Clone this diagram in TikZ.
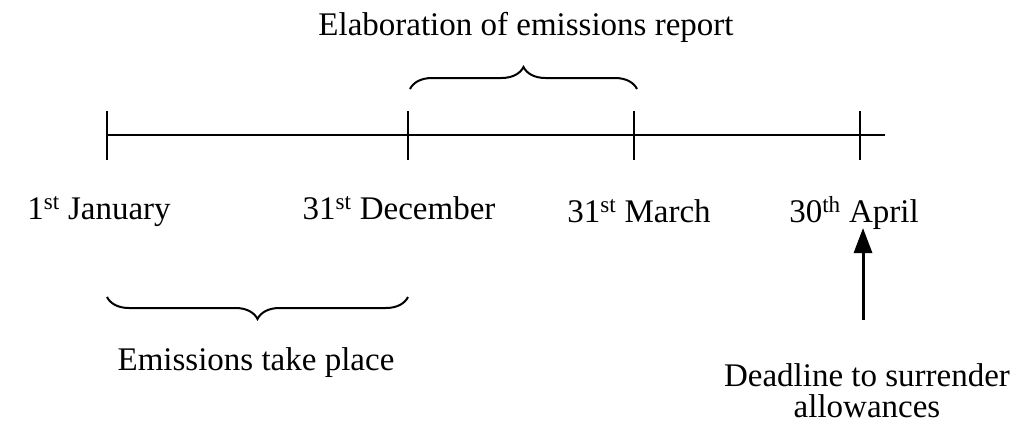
\documentclass[tikz,border=0pt]{standalone}
\usepackage{fontspec}
\setmainfont{Liberation Serif}
\usetikzlibrary{arrows.meta,decorations.pathreplacing}
\begin{document}
\begin{tikzpicture}[x=1pt,y=-1pt,
  lbl/.style={anchor=base,inner sep=0pt,font=\fontsize{33}{28}\selectfont},
  tl/.style={line width=2pt},
  tick/.style={line width=2pt},
  brc/.style={line width=2pt,decorate,decoration={brace,amplitude=22pt}},
  arr/.style={line width=3pt,-{Triangle[length=25pt,width=18pt]}}]
\useasboundingbox (0,0) rectangle (1024,436);
\coordinate (t1) at (107,135);
\coordinate (t2) at (408,135);
\coordinate (t3) at (634,135);
\coordinate (t4) at (860,135);
\coordinate (tend) at (885,135);
\draw[tl] (t1) -- (tend);
\foreach \t in {t1,t2,t3,t4}{\draw[tick] ([yshift=-25pt]\t) -- ([yshift=24pt]\t);}
\node[lbl] (l1) at (99,219) {1\textsuperscript{st} January};
\node[lbl] (l2) at (399,219) {31\textsuperscript{st} December};
\node[lbl] (l3) at (639,222) {31\textsuperscript{st} March};
\node[lbl] (l4) at (854,222) {30\textsuperscript{th} April};
\node[lbl] (top) at (526,36) {Elaboration of emissions report};
\node[lbl] (emi) at (256,370) {Emissions take place};
\node[lbl] (dl1) at (867,386) {Deadline to surrender};
\node[lbl] (dl2) at (867,417) {allowances};
\coordinate (b1a) at (410,89);
\coordinate (b1b) at (637,89);
\draw[brc] (b1a) -- (b1b);
\coordinate (b2a) at (107,297);
\coordinate (b2b) at (408,297);
\draw[brc,decoration={mirror}] (b2a) -- (b2b);
\coordinate (as) at (863,320);
\coordinate (ae) at (863,228);
\draw[arr] (as) -- (ae);
\end{tikzpicture}
\end{document}
